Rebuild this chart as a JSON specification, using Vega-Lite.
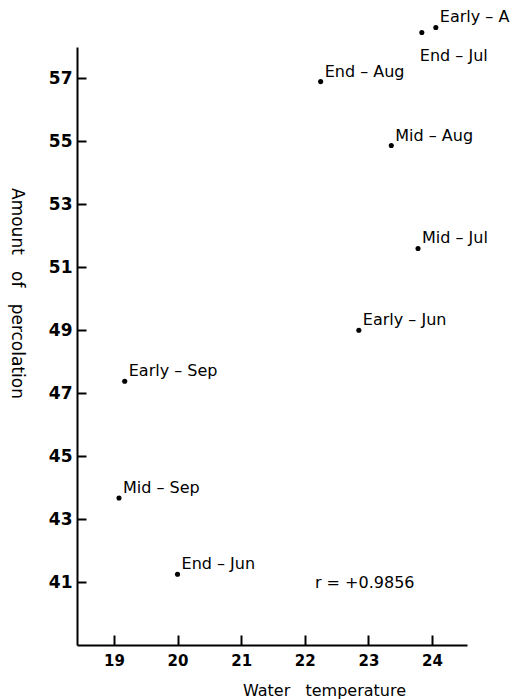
{
  "$schema": "https://vega.github.io/schema/vega-lite/v6.json",
  "width": 390,
  "height": 598,
  "autosize": {"type": "none"},
  "padding": {"left": 77, "top": 47, "right": 49, "bottom": 54},
  "background": "white",
  "config": {
    "view": {"stroke": null},
    "axis": {
      "grid": false,
      "domainColor": "black",
      "domainWidth": 2,
      "tickColor": "black",
      "tickWidth": 2,
      "labelColor": "black",
      "labelFont": "DejaVu Sans",
      "labelFontWeight": "bold",
      "titleColor": "black",
      "titleFont": "DejaVu Sans",
      "titleFontWeight": "normal"
    }
  },
  "datasets": {
    "points": [
      {"label": "Early – A", "temperature": 24.06, "percolation": 58.62},
      {"label": "End – Jul", "temperature": 23.84, "percolation": 58.46},
      {"label": "End – Aug", "temperature": 22.25, "percolation": 56.9},
      {"label": "Mid – Aug", "temperature": 23.36, "percolation": 54.87},
      {"label": "Mid – Jul", "temperature": 23.78, "percolation": 51.6},
      {"label": "Early – Jun", "temperature": 22.85, "percolation": 49.0},
      {"label": "Early – Sep", "temperature": 19.17, "percolation": 47.38},
      {"label": "Mid – Sep", "temperature": 19.08, "percolation": 43.67},
      {"label": "End – Jun", "temperature": 20.0, "percolation": 41.25}
    ],
    "note": [
      {"text": "r = +0.9856", "temperature": 22.16, "percolation": 40.97}
    ]
  },
  "encoding": {
    "x": {
      "field": "temperature",
      "type": "quantitative",
      "scale": {"domain": [18.42, 24.55], "nice": false, "zero": false},
      "axis": {
        "values": [19, 20, 21, 22, 23, 24],
        "format": "d",
        "ticks": true,
        "tickSize": -10,
        "labelPadding": 18,
        "labelFontSize": 15,
        "title": "Water\u00a0\u00a0\u00a0temperature",
        "titleFontSize": 16,
        "titleX": 247,
        "titleY": 50,
        "titleAlign": "center",
        "titleBaseline": "alphabetic"
      }
    },
    "y": {
      "field": "percolation",
      "type": "quantitative",
      "scale": {"domain": [39, 58], "nice": false, "zero": false},
      "axis": {
        "values": [41, 43, 45, 47, 49, 51, 53, 55, 57],
        "format": "d",
        "ticks": true,
        "tickSize": -9,
        "labelPadding": 14,
        "labelFontSize": 17,
        "title": "Amount\u00a0\u00a0\u00a0of\u00a0\u00a0\u00a0percolation",
        "titleFontSize": 17,
        "titleAngle": 90,
        "titleX": -61,
        "titleY": 246,
        "titleAlign": "center",
        "titleBaseline": "middle"
      }
    }
  },
  "layer": [
    {
      "data": {"name": "points"},
      "mark": {"type": "circle", "size": 26, "color": "black", "opacity": 1}
    },
    {
      "data": {"name": "points"},
      "transform": [{"filter": "datum.label !== 'End – Jul'"}],
      "mark": {"type": "text", "align": "left", "baseline": "alphabetic", "dx": 4, "dy": -5, "fontSize": 16, "font": "DejaVu Sans", "color": "black"},
      "encoding": {"text": {"field": "label"}}
    },
    {
      "data": {"name": "points"},
      "transform": [{"filter": "datum.label === 'End – Jul'"}],
      "mark": {"type": "text", "align": "left", "baseline": "alphabetic", "dx": -2, "dy": 28, "fontSize": 16, "font": "DejaVu Sans", "color": "black"},
      "encoding": {"text": {"field": "label"}}
    },
    {
      "data": {"name": "note"},
      "mark": {"type": "text", "align": "left", "baseline": "middle", "fontSize": 16, "font": "DejaVu Sans", "color": "black"},
      "encoding": {"text": {"field": "text"}}
    }
  ]
}
